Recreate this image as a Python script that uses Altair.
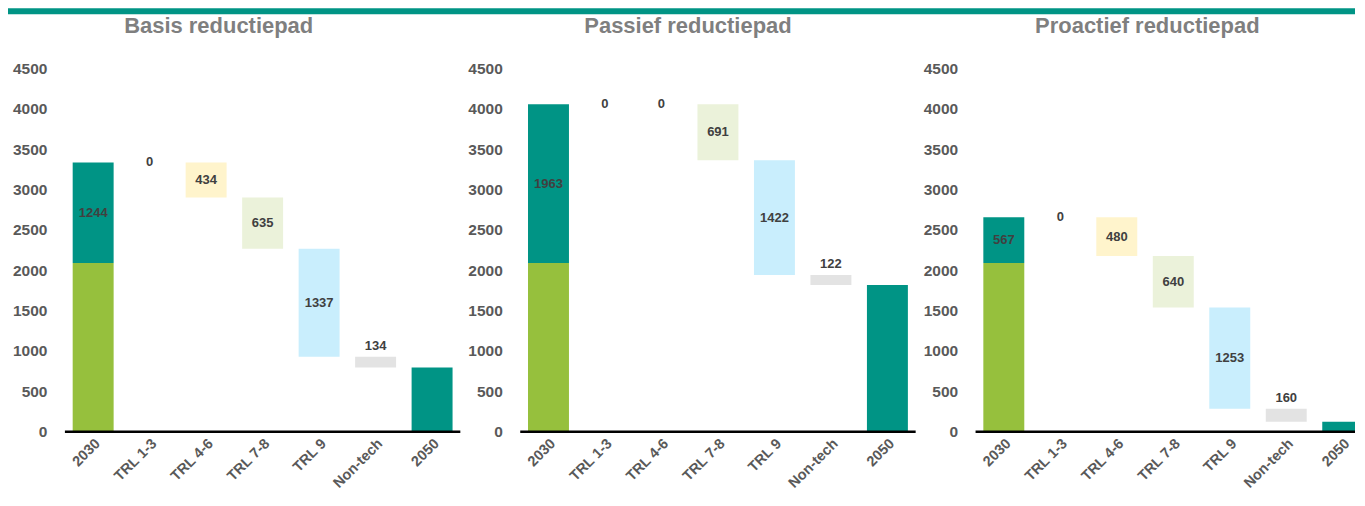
import altair as alt
import pandas as pd

FONT = "Liberation Sans, Arial, sans-serif"

categories = ["2030", "TRL 1-3", "TRL 4-6", "TRL 7-8", "TRL 9", "Non-tech", "2050"]
titles = ["Basis reductiepad", "Passief reductiepad", "Proactief reductiepad"]
base_2030 = [2090, 2090, 2090]
extra_2030 = [1244, 1963, 567]
red_basis = [0, 434, 635, 1337, 134]
red_passief = [0, 0, 691, 1422, 122]
red_proactief = [0, 480, 640, 1253, 160]
reductions = [red_basis, red_passief, red_proactief]
y_ticks = [0, 500, 1000, 1500, 2000, 2500, 3000, 3500, 4000, 4500]

kind_names = ["base", "total", "TRL 1-3", "TRL 4-6", "TRL 7-8", "TRL 9", "Non-tech"]
kind_colors = ["#96C03D", "#009485", "#FCE4D6", "#FFF4CC", "#EBF2DA", "#C9EEFD", "#E3E3E3"]


def build_df(i):
    rows = []
    b, e = base_2030[i], extra_2030[i]
    rows.append(dict(cat="2030", lo=0, hi=b, kind="base", label="", ly=b / 2, pos="none"))
    level = b + e
    rows.append(dict(cat="2030", lo=b, hi=level, kind="total", label=str(e), ly=b + e / 2, pos="mid"))
    for cat, r in zip(categories[1:6], reductions[i]):
        lo = level - r
        pos = "above" if cat == "Non-tech" else "mid"
        ly = level if pos == "above" else (lo + level) / 2
        rows.append(dict(cat=cat, lo=lo, hi=level, kind=cat, label=str(r), ly=ly, pos=pos))
        level = lo
    rows.append(dict(cat="2050", lo=0, hi=level, kind="total", label="", ly=level, pos="none"))
    return pd.DataFrame(rows)


def panel(i, width, height, title_x, band=None):
    df = build_df(i)
    sc = dict(domain=categories, paddingInner=0.275, paddingOuter=0.1375, range=[0, 396])
    yaxis = alt.Axis(title=None, values=y_ticks, format="d", grid=False,
                     domain=False, ticks=False, labelPadding=18, labelFont=FONT,
                     labelFontSize=15.5, labelFontWeight="bold", labelColor="#595959")
    X = lambda f: alt.X(f, sort=categories, scale=alt.Scale(**sc), axis=None)
    Y = lambda f: alt.Y(f, scale=alt.Scale(domain=[0, 4500], nice=False, zero=True), axis=yaxis)

    base = alt.Chart(df)
    bars = base.mark_bar(cornerRadius=0, strokeWidth=0, clip=True).encode(
        x=X("cat:N"), y=Y("lo:Q"), y2="hi:Q",
        color=alt.Color("kind:N", scale=alt.Scale(domain=kind_names, range=kind_colors), legend=None),
    )
    txt_mid = base.transform_filter(alt.datum.pos == "mid").mark_text(
        font=FONT, fontSize=13, fontWeight="bold", color="#404040", baseline="middle"
    ).encode(x=X("cat:N"), y=Y("ly:Q"), text="label:N")
    txt_above = base.transform_filter(alt.datum.pos == "above").mark_text(
        font=FONT, fontSize=13, fontWeight="bold", color="#404040", baseline="middle", dy=-11
    ).encode(x=X("cat:N"), y=Y("ly:Q"), text="label:N")
    cat_labels = alt.Chart(pd.DataFrame({"cat": categories})).mark_text(
        font=FONT, fontSize=14.5, fontWeight="bold", color="#595959",
        angle=315, align="right", baseline="top"
    ).encode(x=X("cat:N"), y=alt.value(height + 5), text="cat:N")
    rule = alt.Chart(pd.DataFrame({"v": [0]})).mark_rule(color="#000000", strokeWidth=2.5).encode(
        x=alt.value(0), x2=alt.value(width), y=Y("v:Q")
    )
    tdf = pd.DataFrame({"t": [titles[i]]})
    title = alt.Chart(tdf).mark_text(
        font=FONT, fontSize=22, fontWeight="bold", color="#7F7F7F",
        align="center", baseline="alphabetic"
    ).encode(x=alt.value(title_x), y=alt.value(-35), text="t:N")
    layers = [title, bars, rule, txt_mid, txt_above, cat_labels]
    if band is not None:
        band_mark = alt.Chart(tdf).mark_rect(color="#009485").encode(
            x=alt.value(band[0]), x2=alt.value(band[1]),
            y=alt.value(-60), y2=alt.value(-54)
        )
        layers = [band_mark] + layers
    return alt.layer(*layers).properties(width=width, height=height)


p1 = panel(0, 396, 364, 154, band=(-57, 1292))
p2 = panel(1, 396, 364, 168)
p3 = panel(2, 380, 364, 172)

chart = alt.hconcat(p1, p2, p3, spacing=60, bounds="flush").properties(padding=0).configure_view(stroke=None)
chart.save("out.html", embed_options={"renderer": "svg", "actions": False})
